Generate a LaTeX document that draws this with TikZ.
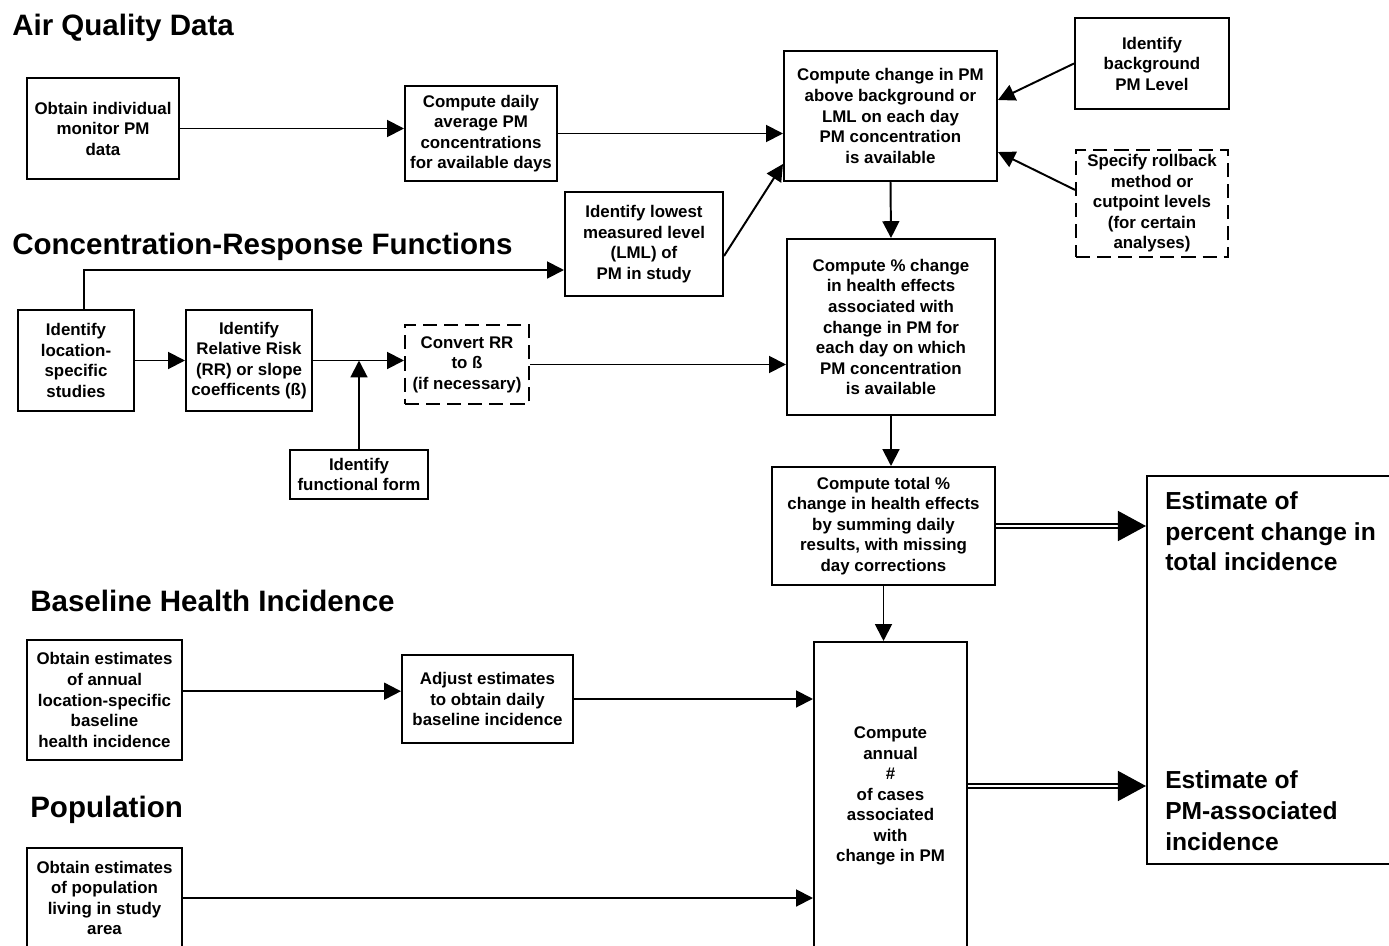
\documentclass[tikz,border=0pt]{standalone}
\usepackage{fontspec}
\setmainfont{Liberation Sans}
\usetikzlibrary{arrows.meta}

\begin{document}
\begin{tikzpicture}[x=0.025cm, y=-0.025cm,
  box/.style={draw, line width=1.4pt, align=center, inner sep=2pt, font=\fontsize{12}{14.6}\selectfont\bfseries},
  dbox/.style={box, dash pattern=on 10pt off 5pt},
  ttl/.style={anchor=base west, inner sep=0pt, font=\fontsize{21}{25}\selectfont\bfseries},
  res/.style={anchor=north west, inner sep=0pt, align=left, font=\fontsize{17.5}{22}\selectfont\bfseries},
  arr/.style={line width=1.4pt, -{Triangle[length=0.42cm,width=0.42cm]}},
  dline/.style={double, double distance=0.06cm, line width=1pt},
  bigtip/.style={line width=1pt, -{Triangle[length=0.7cm,width=0.75cm]}}]

\clip (0,0) rectangle (1389,946);

% -------- titles -----------
\node (t1) [ttl] at (12,36)  {Air Quality Data};
\node (t2) [ttl] at (12,254) {Concentration-Response Functions};
\node (t3) [ttl] at (30,611) {Baseline Health Incidence};
\node (t4) [ttl] at (30,817) {Population};

% -------- boxes -----------
\node (b1)  [box, minimum width=3.8cm,   minimum height=2.525cm] at (103,128.5)  {Obtain individual\\monitor PM\\data};
\node (b2)  [box, minimum width=3.8cm,   minimum height=2.375cm] at (481,133.5)  {Compute daily\\average PM\\concentrations\\for available days};
\node (b3)  [box, minimum width=5.325cm, minimum height=3.25cm]  at (890.5,116)  {Compute change in PM\\above background or\\LML on each day\\PM concentration\\is available};
\node (b4)  [box, minimum width=3.85cm,  minimum height=2.275cm] at (1152,63.5)  {Identify\\background\\PM Level};
\node (b5)  [dbox, minimum width=3.8cm,  minimum height=2.675cm] at (1152,203.5) {Specify rollback\\method or\\cutpoint levels\\(for certain\\analyses)};
\node (b6)  [box, minimum width=3.95cm,  minimum height=2.6cm]   at (644,244)    {Identify lowest\\measured level\\(LML) of\\PM in study};
\node (b7)  [box, minimum width=5.2cm,   minimum height=4.4cm]   at (891,327)    {Compute \% change\\in health effects\\associated with\\change in PM for\\each day on which\\PM concentration\\is available};
\node (b8)  [box, minimum width=2.9cm,   minimum height=2.525cm] at (76,360.5)   {Identify\\location-\\specific\\studies};
\node (b9)  [box, minimum width=3.15cm,  minimum height=2.525cm] at (249,360.5)  {Identify\\Relative Risk\\(RR) or slope\\coefficents (ß)};
\node (b10) [dbox, minimum width=3.1cm,  minimum height=1.975cm] at (467,364.5)  {Convert RR\\to ß\\(if necessary)};
\node (b11) [box, minimum width=3.45cm,  minimum height=1.225cm] at (359,474.5)  {Identify\\functional form};
\node (b12) [box, minimum width=5.575cm, minimum height=2.95cm]  at (883.5,526)  {Compute total \%\\change in health effects\\by summing daily\\results, with missing\\day corrections};
\node (b13) [box, minimum width=6.825cm, minimum height=9.7cm]   at (1283.5,670) {};
\node (b14) [box, minimum width=3.875cm, minimum height=3cm]     at (104.5,700)  {Obtain estimates\\of annual\\location-specific\\baseline\\health incidence};
\node (b15) [box, minimum width=4.275cm, minimum height=2.2cm]   at (487.5,699)  {Adjust estimates\\to obtain daily\\baseline incidence};
\node (b16) [box, minimum width=3.825cm, minimum height=7.7cm]   at (890.5,796)  {Compute\\annual\\\#\\of cases\\associated\\with\\change in PM};
\node (b17) [box, minimum width=3.875cm, minimum height=2.5cm]   at (104.5,898)  {Obtain estimates\\of population\\living in study\\area};

\node (r1) [res] at ([xshift=0.475cm,yshift=-0.4cm]b13.north west)   {Estimate of\\percent change in\\total incidence};
\node (r2) [res] at ([xshift=0.475cm,yshift=-7.375cm]b13.north west) {Estimate of\\PM-associated\\incidence};

% -------- arrows -----------
\draw [arr] (b1.east) -- (b1.east -| b2.west);
\draw [arr] (b2.east) -- (b2.east -| b3.west);
\draw [arr] (b4.west) -- ([yshift=0.4cm]b3.east);
\draw [arr] ([yshift=0.34cm]b5.west) -- ([yshift=-0.9cm]b3.east);
\draw [arr] ([yshift=-0.3cm]b6.east) -- ([yshift=0.45cm]b3.south west);
\draw [arr] (b3.south) -- (b7.north);
\draw [arr] ([xshift=0.2cm]b8.north) |- ([yshift=-0.65cm]b6.west);
\draw [arr] (b8.east) -- (b8.east -| b9.west);
\draw [arr] (b9.east) -- (b9.east -| b10.west);
\coordinate (j1) at (b9.east -| b11.north);
\draw [arr] (b11.north) -- (j1);
\draw [arr] (b10.east) -- (b10.east -| b7.west);
\draw [arr] (b7.south) -- (b7.south |- b12.north);
\draw [arr] (b12.south) -- (b12.south |- b16.north);
\draw [arr] ([yshift=0.22cm]b14.east) -- ([yshift=0.22cm]b14.east -| b15.west);
\draw [arr] (b15.east) -- (b15.east -| b16.west);
\draw [arr] (b17.east) -- (b17.east -| b16.west);

% -------- double arrows -----------
\coordinate (e1) at (b12.east -| b13.west);
\coordinate (e2) at ([yshift=0.25cm]b16.east -| b13.west);
\draw [dline] (b12.east) -- ([xshift=-0.68cm]e1);
\draw [bigtip] ([xshift=-0.7cm]e1) -- (e1);
\draw [dline] ([yshift=0.25cm]b16.east) -- ([xshift=-0.68cm]e2);
\draw [bigtip] ([xshift=-0.7cm]e2) -- (e2);

\end{tikzpicture}
\end{document}
